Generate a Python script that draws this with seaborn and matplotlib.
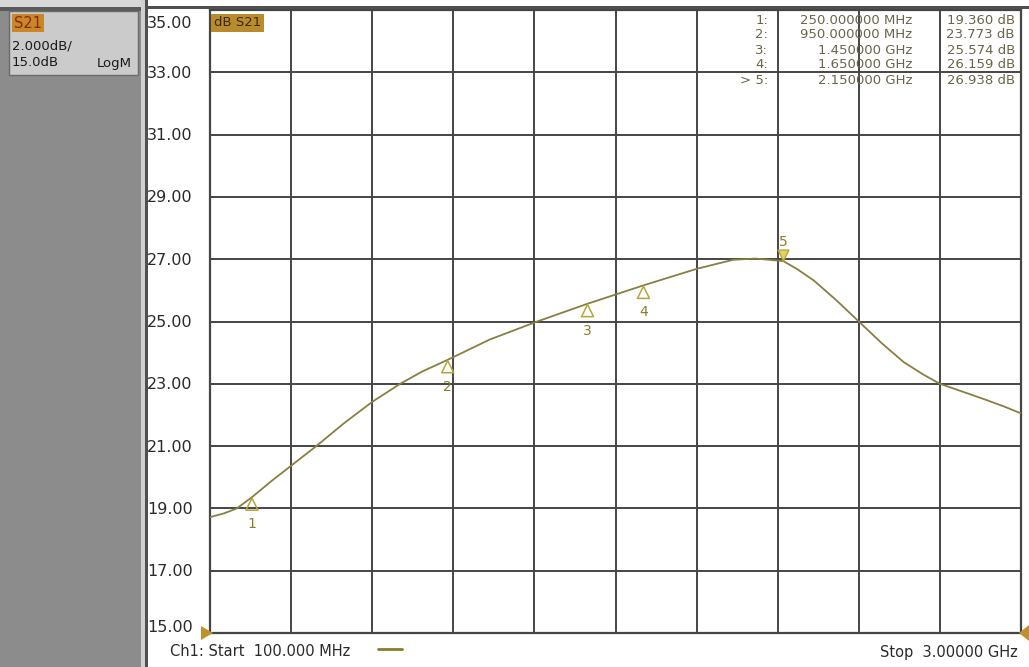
import numpy as np
import pandas as pd
import matplotlib
matplotlib.use("Agg")
import matplotlib.pyplot as plt
import matplotlib.transforms as mtransforms
from matplotlib.patches import Rectangle, Polygon
import seaborn as sns

# S21 trace, frequency in GHz, magnitude in dB
freq_ghz = [0.10, 0.15, 0.196, 0.25, 0.32, 0.39, 0.48, 0.58, 0.68, 0.78, 0.86, 0.95,
            1.10, 1.27, 1.45, 1.65, 1.84, 1.97, 2.05, 2.15, 2.20, 2.26, 2.34, 2.42,
            2.50, 2.58, 2.65, 2.71, 2.80, 2.87, 2.94, 3.00]
s21_db = [18.72, 18.84, 19.00, 19.36, 19.88, 20.37, 21.00, 21.74, 22.42, 23.00, 23.40, 23.77,
          24.42, 25.00, 25.57, 26.16, 26.69, 26.98, 27.02, 26.94, 26.68, 26.31, 25.68, 25.00,
          24.32, 23.70, 23.30, 23.00, 22.72, 22.50, 22.27, 22.05]

# marker readout
marker_ids = [1, 2, 3, 4, 5]
marker_freq_ghz = [0.25, 0.95, 1.45, 1.65, 2.15]
marker_db = [19.360, 23.773, 25.574, 26.159, 26.938]
marker_freq_text = ["250.000000 MHz", "950.000000 MHz", "1.450000 GHz",
                    "1.650000 GHz", "2.150000 GHz"]
active_marker = 5

# scale settings
y_ticks = [15, 17, 19, 21, 23, 25, 27, 29, 31, 33, 35]
y_tick_labels = ["15.00", "17.00", "19.00", "21.00", "23.00", "25.00",
                 "27.00", "29.00", "31.00", "33.00", "35.00"]
start_ghz, stop_ghz, n_div = 0.1, 3.0, 10
start_text = "Ch1: Start  100.000 MHz"
stop_text = "Stop  3.00000 GHz"
scale_text = ["S21", "2.000dB/", "15.0dB", "LogM"]

W, H = 1029, 667
sns.set_style("white")
plt.rcParams["font.family"] = ["DejaVu Sans"]

fig = plt.figure(figsize=(W / 100, H / 100), dpi=100)
fig.patch.set_facecolor("white")


def fx(px):
    return px / W


def fy(py):
    return 1 - py / H


def frect(x0, y0, x1, y1, **kw):
    fig.patches.append(Rectangle((fx(x0), fy(y1)), fx(x1) - fx(x0), fy(y0) - fy(y1),
                                 transform=fig.transFigure, zorder=0, **kw))


# instrument frame: left scale panel and borders
frect(0, 0, 141, H, facecolor="#8c8c8c", lw=0)
frect(0, 0, 141, 7, facecolor="#d8d8d8", lw=0)
frect(0, 7, 141, 11, facecolor="#5a5a5a", lw=0)
frect(9, 11, 138, 75, facecolor="#cbcbcb", edgecolor="#6a6a6a", lw=1.0)
frect(141, 0, 145, H, facecolor="#d0d0d0", lw=0)
frect(145, 0, 148, H, facecolor="#505050", lw=0)
frect(148, 6, W, 9, facecolor="#505050", lw=0)

fig.text(fx(14), fy(23), scale_text[0], fontsize=10.5, color="#8a2a08", va="center", ha="left",
         bbox=dict(boxstyle="square,pad=0.12", facecolor="#c8882a", edgecolor="none"))
fig.text(fx(12), fy(46), scale_text[1], fontsize=9.5, color="#1a1a1a", va="center", ha="left")
fig.text(fx(12), fy(63), scale_text[2], fontsize=9.5, color="#1a1a1a", va="center", ha="left")
fig.text(fx(132), fy(63), scale_text[3], fontsize=9.5, color="#1a1a1a", va="center", ha="right")

# measurement graticule
ax = fig.add_axes([fx(210), fy(633), fx(1021) - fx(210), fy(10) - fy(633)])
ax.set_facecolor("white")
grid_col = "#454545"

df = pd.DataFrame({"freq": freq_ghz, "db": s21_db})
sns.lineplot(data=df, x="freq", y="db", ax=ax, color="#8a7e42", lw=1.3, zorder=3)

ax.set_xlim(start_ghz, stop_ghz)
ax.set_ylim(y_ticks[0], y_ticks[-1])
step = (stop_ghz - start_ghz) / n_div
ax.set_xticks([start_ghz + i * step for i in range(n_div + 1)])
ax.set_yticks(y_ticks)
ax.grid(True, color=grid_col, lw=1.4)
ax.tick_params(length=0, labelbottom=False, labelleft=False)
for sp in ax.spines.values():
    sp.set_color(grid_col)
    sp.set_linewidth(1.6)

# y scale labels on the left of the graticule
ylab_tf = mtransforms.blended_transform_factory(fig.transFigure, ax.transData)
for v, lab in zip(y_ticks, y_tick_labels):
    if v == y_ticks[-1]:
        dy = -13
    elif v == y_ticks[0]:
        dy = 6
    else:
        dy = -1
    tf = mtransforms.offset_copy(ylab_tf, fig=fig, x=0, y=dy, units="dots")
    fig.text(fx(147), v, lab, transform=tf, fontsize=11.5, color="#2a2a2a",
             ha="left", va="center")

# markers
dfm = pd.DataFrame({"freq": marker_freq_ghz, "db": marker_db, "id": marker_ids})
mk_edge = "#b5a53a"
lab_col = "#8c7c2c"
normal = dfm[dfm["id"] != active_marker]
act = dfm[dfm["id"] == active_marker]

sns.scatterplot(data=normal, x="freq", y="db", ax=ax, marker="^", s=75, zorder=5, legend=False)
coll = ax.collections[-1]
coll.set_facecolor("none")
coll.set_edgecolor(mk_edge)
coll.set_linewidth(1.1)
coll.set_offset_transform(mtransforms.offset_copy(ax.transData, fig=fig, x=0, y=-7, units="dots"))

sns.scatterplot(data=act, x="freq", y="db", ax=ax, marker="v", s=60, zorder=5, legend=False)
coll = ax.collections[-1]
coll.set_facecolor("#e6d264")
coll.set_edgecolor(mk_edge)
coll.set_linewidth(1.0)
coll.set_offset_transform(mtransforms.offset_copy(ax.transData, fig=fig, x=0, y=6, units="dots"))

for f, d, i in zip(marker_freq_ghz, marker_db, marker_ids):
    off = 19 if i == active_marker else -27
    ax.annotate(str(i), (f, d), xytext=(0, off), textcoords="offset pixels",
                ha="center", va="center", fontsize=10, color=lab_col, zorder=6)

ax.set_xlabel("")
ax.set_ylabel("")

# marker readout table
row_y = [20, 35, 50, 65, 80]
tab_col = "#6a644c"
for k, (i, ft, d) in enumerate(zip(marker_ids, marker_freq_text, marker_db)):
    idlab = ("> " if i == active_marker else "") + f"{i}:"
    fig.text(fx(768), fy(row_y[k]), idlab, fontsize=9.5, color=tab_col, ha="right", va="center")
    fig.text(fx(912), fy(row_y[k]), ft, fontsize=9.5, color=tab_col, ha="right", va="center")
    fig.text(fx(1015), fy(row_y[k]), f"{d:.3f} dB", fontsize=9.5, color=tab_col,
             ha="right", va="center")

# trace label box
ax.text(fx(214), fy(23), "dB S21", transform=fig.transFigure, fontsize=9.5, color="#3e2a00",
        ha="left", va="center",
        bbox=dict(boxstyle="square,pad=0.2", facecolor="#b88c2c", edgecolor="none"))

# reference position arrows and sweep annotation
ref_col = "#c0922c"
fig.patches.append(Polygon([(fx(201), fy(626)), (fx(201), fy(640)), (fx(213), fy(633))],
                           closed=True, transform=fig.transFigure, facecolor=ref_col,
                           edgecolor="none", zorder=5))
fig.patches.append(Polygon([(fx(1029), fy(625)), (fx(1029), fy(641)), (fx(1019), fy(633))],
                           closed=True, transform=fig.transFigure, facecolor=ref_col,
                           edgecolor="none", zorder=5))

fig.text(fx(170), fy(652), start_text, fontsize=10.5, color="#2a2a2a", ha="left", va="center")
fig.add_artist(plt.Line2D([fx(378), fx(402)], [fy(649), fy(649)], transform=fig.transFigure,
                          color="#8c7c2c", lw=2.0))
fig.text(fx(1018), fy(652), stop_text, fontsize=10.5, color="#2a2a2a", ha="right", va="center")

fig.savefig("out.png", dpi=100, facecolor=fig.get_facecolor())
